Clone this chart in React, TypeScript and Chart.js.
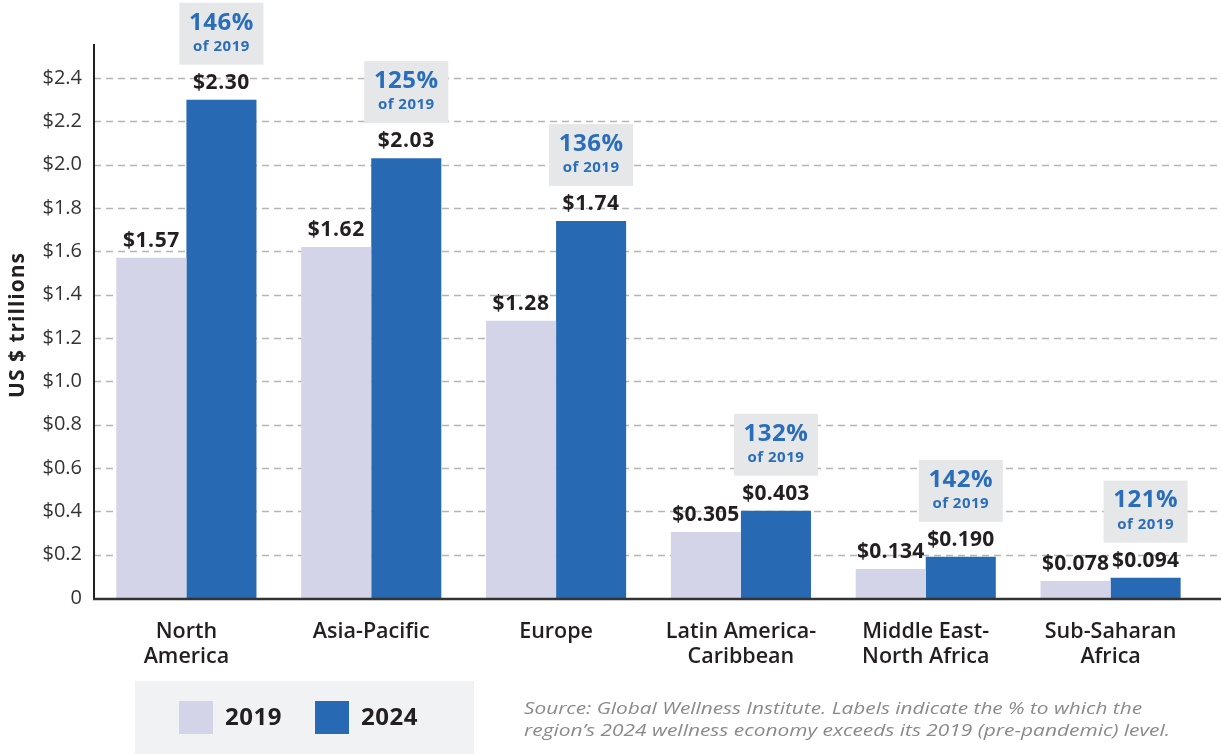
import React, { useEffect, useRef } from "react";
import { Chart, registerables } from "chart.js";

Chart.register(...registerables);

const categories: string[][] = [
  ["North", "America"],
  ["Asia-Pacific"],
  ["Europe"],
  ["Latin America-", "Caribbean"],
  ["Middle East-", "North Africa"],
  ["Sub-Saharan", "Africa"],
];
const seriesNames = ["2019", "2024"];
const values2019 = [1.57, 1.62, 1.28, 0.305, 0.134, 0.078];
const values2024 = [2.3, 2.03, 1.74, 0.403, 0.19, 0.094];
const pctOf2019 = [146, 125, 136, 132, 142, 121];
const yTickStep = 0.2;
const yTickTop = 2.4;
const yAxisTitle = "US $ trillions";
const sourceLines = [
  "Source: Global Wellness Institute. Labels indicate the % to which the",
  "region\u2019s 2024 wellness economy exceeds its 2019 (pre-pandemic) level.",
];

const COLOR_2019 = "#d3d4e8";
const COLOR_2024 = "#2769b3";
const BLUE_TEXT = "#2a6ebb";
const DARK = "#231f20";
const FONT = "'Open Sans', sans-serif";

const fmtValue = (v: number) => "$" + (v >= 1 ? v.toFixed(2) : v.toFixed(3));
const fmtTick = (v: number) => (Math.abs(v) < 1e-9 ? "0" : "$" + v.toFixed(1));

function setSpacing(ctx: any, px: number) {
  try {
    ctx.letterSpacing = px + "px";
  } catch (e) {}
}

const decorPlugin = {
  id: "decor",
  beforeDatasetsDraw(chart: any) {
    const { ctx, chartArea, scales } = chart;
    const y = scales.y;
    ctx.save();
    ctx.strokeStyle = "#b5b5b5";
    ctx.lineWidth = 1.3;
    ctx.setLineDash([7, 5]);
    y.ticks.forEach((t: any) => {
      if (t.value <= 0) return;
      const py = Math.round(y.getPixelForValue(t.value)) + 0.5;
      ctx.beginPath();
      ctx.moveTo(chartArea.left, py);
      ctx.lineTo(chart.width, py);
      ctx.stroke();
    });
    ctx.restore();
  },
  afterDatasetsDraw(chart: any) {
    const { ctx, chartArea } = chart;
    ctx.save();
    // axes
    ctx.strokeStyle = DARK;
    ctx.lineWidth = 2;
    ctx.beginPath();
    ctx.moveTo(chartArea.left, chartArea.top);
    ctx.lineTo(chartArea.left, chartArea.bottom + 1);
    ctx.stroke();
    ctx.lineWidth = 2.5;
    ctx.strokeStyle = "#333";
    ctx.beginPath();
    ctx.moveTo(chartArea.left - 1, chartArea.bottom + 1);
    ctx.lineTo(chart.width, chartArea.bottom + 1);
    ctx.stroke();

    // value labels
    ctx.textAlign = "center";
    ctx.textBaseline = "middle";
    ctx.fillStyle = DARK;
    ctx.font = `bold 21px ${FONT}`;
    [values2019, values2024].forEach((vals, di) => {
      const meta = chart.getDatasetMeta(di);
      meta.data.forEach((bar: any, i: number) => {
        setSpacing(ctx, vals[i] < 1 ? 0.2 : 0.6);
        ctx.fillText(fmtValue(vals[i]), bar.x, bar.y - 17);
      });
    });

    // percent boxes
    const meta24 = chart.getDatasetMeta(1);
    meta24.data.forEach((bar: any, i: number) => {
      const top = bar.y - 97;
      ctx.fillStyle = "#e6e7e9";
      ctx.fillRect(bar.x - 42, top, 84, 62);
      ctx.fillStyle = BLUE_TEXT;
      ctx.font = `bold 24px ${FONT}`;
      setSpacing(ctx, 0.5);
      ctx.fillText(pctOf2019[i] + "%", bar.x, bar.y - 77);
      ctx.font = `bold 15px ${FONT}`;
      setSpacing(ctx, 0.5);
      ctx.fillText("of " + seriesNames[0], bar.x, bar.y - 53);
    });

    // y-axis title
    ctx.save();
    ctx.translate(18, 325);
    ctx.rotate(-Math.PI / 2);
    ctx.fillStyle = DARK;
    ctx.font = `bold 21px ${FONT}`;
    setSpacing(ctx, 1);
    ctx.fillText(yAxisTitle, 0, 0);
    ctx.restore();

    // legend
    ctx.fillStyle = "#f1f2f4";
    ctx.fillRect(135, 681, 339, 73);
    const sw = [
      { x: 179, color: COLOR_2019, label: seriesNames[0] },
      { x: 315, color: COLOR_2024, label: seriesNames[1] },
    ];
    sw.forEach((s) => {
      ctx.fillStyle = s.color;
      ctx.fillRect(s.x, 701, 34, 33);
      ctx.fillStyle = DARK;
      ctx.font = `bold 24px ${FONT}`;
      setSpacing(ctx, 0.5);
      ctx.textAlign = "left";
      ctx.fillText(s.label, s.x + 46, 718);
    });

    // source
    ctx.fillStyle = "#8a8a8a";
    ctx.font = `italic 17px ${FONT}`;
    setSpacing(ctx, 0);
    ctx.textAlign = "left";
    const targets = [618, 646];
    sourceLines.forEach((line, i) => {
      const w = ctx.measureText(line).width;
      ctx.save();
      ctx.translate(524, i === 0 ? 709 : 731);
      ctx.scale(targets[i] / w, 1);
      ctx.fillText(line, 0, 0);
      ctx.restore();
    });
    ctx.restore();
  },
};

export default function App() {
  const ref = useRef<HTMLCanvasElement | null>(null);
  useEffect(() => {
    if (!ref.current) return;
    const chart = new Chart(ref.current, {
      type: "bar",
      data: {
        labels: categories,
        datasets: [
          {
            label: seriesNames[0],
            data: values2019,
            backgroundColor: COLOR_2019,
            barPercentage: 1,
            categoryPercentage: 0.758,
          },
          {
            label: seriesNames[1],
            data: values2024,
            backgroundColor: COLOR_2024,
            barPercentage: 1,
            categoryPercentage: 0.758,
          },
        ],
      },
      options: {
        responsive: false,
        animation: false,
        layout: { padding: { top: 44, right: 18, left: 0, bottom: 0 } },
        plugins: { legend: { display: false }, tooltip: { enabled: false } },
        scales: {
          x: {
            grid: { display: false, drawTicks: false },
            border: { display: false },
            ticks: {
              color: DARK,
              font: { family: FONT, size: 21.5, weight: "600", lineHeight: 1.18 },
              padding: 21,
              maxRotation: 0,
              autoSkip: false,
            },
            afterFit: (s: any) => {
              s.height = 156;
            },
          },
          y: {
            min: 0,
            max: (yTickTop * 554) / 520,
            grid: { display: false, drawTicks: false },
            border: { display: false },
            ticks: {
              stepSize: yTickStep,
              color: "#333",
              font: { family: FONT, size: 20 },
              padding: 12,
              callback: (v: any) => fmtTick(Number(v)),
            },
            afterBuildTicks: (s: any) => {
              s.ticks = s.ticks.filter((t: any) => t.value <= yTickTop + 1e-6);
            },
            afterFit: (s: any) => {
              s.width = 94;
            },
          },
        },
      },
      plugins: [decorPlugin],
    });
    return () => chart.destroy();
  }, []);
  return (
    <div style={{ position: "fixed", left: 0, top: 0, width: 1221, height: 754, background: "#fff" }}>
      <canvas ref={ref} width={1221} height={754} style={{ display: "block" }} />
    </div>
  );
}
